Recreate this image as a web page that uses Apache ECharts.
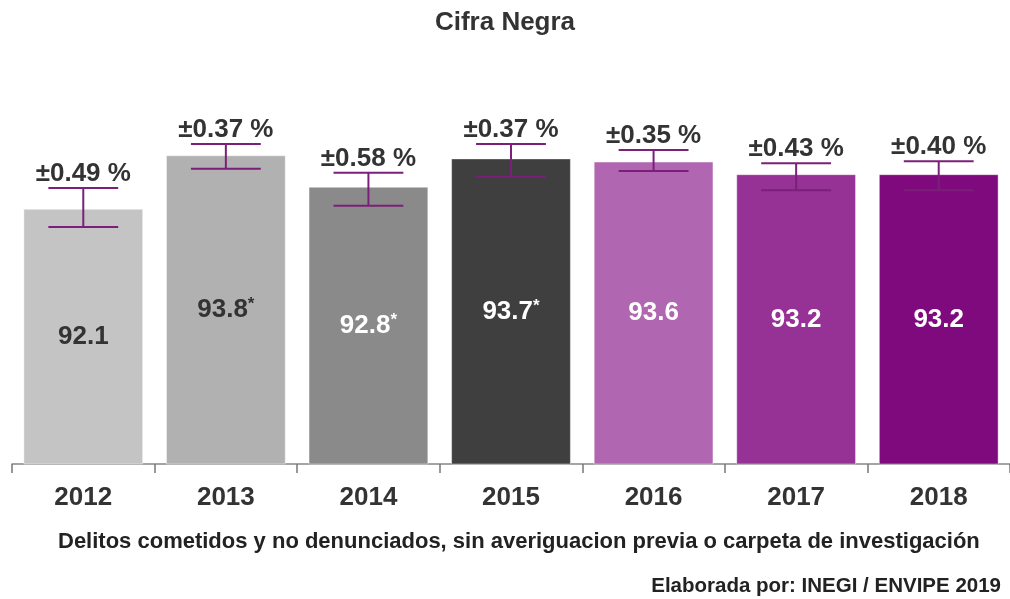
<!DOCTYPE html>
<html>
<head>
<meta charset="utf-8">
<script src="https://cdn.jsdelivr.net/npm/echarts@6/dist/echarts.min.js"></script>
<style>
  html, body { margin: 0; padding: 0; background: #fff; }
  #main { width: 1010px; height: 599px; }
</style>
</head>
<body>
<div id="main"></div>
<script>
var years = ['2012', '2013', '2014', '2015', '2016', '2017', '2018'];
var values = [92.1, 93.8, 92.8, 93.7, 93.6, 93.2, 93.2];
var signif = [false, true, true, true, false, false, false];
var errText = ['±0.49 %', '±0.37 %', '±0.58 %', '±0.37 %', '±0.35 %', '±0.43 %', '±0.40 %'];
// error bar ends as drawn in the picture
var errLow = [91.52, 93.37, 92.20, 93.12, 93.30, 92.69, 92.69];
var errHigh = [92.76, 94.16, 93.25, 94.16, 93.97, 93.55, 93.61];
var barColors = ['#c4c4c4', '#b1b1b1', '#8a8a8a', '#3f3f3f', '#b066b0', '#963296', '#7e0a7e'];
var labelColors = ['#333333', '#333333', '#ffffff', '#ffffff', '#ffffff', '#ffffff', '#ffffff'];

var font = 'Arial, "Liberation Sans", sans-serif';
var errColor = '#7b1f7a';

var chart = echarts.init(document.getElementById('main'));
window.onresize = function() {
    chart.resize();
};

var barData = values.map(function (v, i) {
    return {
        value: v,
        itemStyle: { color: barColors[i] },
        label: {
            formatter: signif[i] ? '{a|' + v.toFixed(1) + '}{s|*}' : '{a|' + v.toFixed(1) + '}',
            rich: {
                a: { fontSize: 26, fontWeight: 'bold', fontFamily: font, color: labelColors[i] },
                s: { fontSize: 17, fontWeight: 'bold', fontFamily: font, color: labelColors[i], padding: [0, 0, 11, 0] }
            }
        }
    };
});

var errData = years.map(function (y, i) {
    return [i, errLow[i], errHigh[i]];
});

var option = {
  backgroundColor: '#fff',
  title: [
    {
      text: 'Cifra Negra',
      left: 'center',
      top: 5,
      textStyle: { fontSize: 26, fontWeight: 'bold', fontFamily: font, color: '#333' }
    },
    {
      text: 'Delitos cometidos y no denunciados, sin averiguacion previa o carpeta de investigación',
      left: 53,
      top: 526,
      textStyle: { fontSize: 22, fontWeight: 'bold', fontFamily: font, color: '#222' }
    },
    {
      text: 'Elaborada por: INEGI / ENVIPE 2019',
      right: 4,
      top: 571,
      textStyle: { fontSize: 20.5, fontWeight: 'bold', fontFamily: font, color: '#222' }
    }
  ],
  grid: { left: 12, right: -8, top: 86, bottom: 135 },
  xAxis: {
    type: 'category',
    data: years,
    axisLine: { lineStyle: { color: '#868686', width: 1.5 } },
    axisTick: { show: true, interval: 0, alignWithLabel: false, length: 9, lineStyle: { color: '#777', width: 1.5 } },
    axisLabel: { margin: 21, fontSize: 26, fontWeight: 'bold', fontFamily: font, color: '#333' }
  },
  yAxis: {
    type: 'value',
    min: 84,
    max: 96,
    show: false,
    splitLine: { show: false }
  },
  series: [
    {
      type: 'bar',
      barWidth: '84%',
      data: barData,
      label: { show: true, position: 'inside' },
      itemStyle: { borderColor: 'rgba(255,255,255,0.4)', borderWidth: 1 }
    },
    {
      type: 'custom',
      data: errData,
      z: 10,
      renderItem: function (params, api) {
          var i = api.value(0);
          var low = api.coord([i, api.value(1)]);
          var high = api.coord([i, api.value(2)]);
          var half = api.size([1, 0])[0] * 0.245;
          var style = { stroke: errColor, lineWidth: 2 };
          return {
              type: 'group',
              children: [
                  { type: 'line', shape: { x1: high[0], y1: high[1], x2: low[0], y2: low[1] }, style: style },
                  { type: 'line', shape: { x1: high[0] - half, y1: high[1], x2: high[0] + half, y2: high[1] }, style: style },
                  { type: 'line', shape: { x1: low[0] - half, y1: low[1], x2: low[0] + half, y2: low[1] }, style: style },
                  {
                      type: 'text',
                      x: high[0],
                      y: high[1] - 1,
                      style: {
                          text: errText[params.dataIndex],
                          align: 'center',
                          verticalAlign: 'bottom',
                          fontSize: 26,
                          fontWeight: 'bold',
                          fontFamily: font,
                          fill: '#333'
                      }
                  }
              ]
          };
      }
    }
  ]
};

option && chart.setOption(option);
</script>
</body>
</html>
